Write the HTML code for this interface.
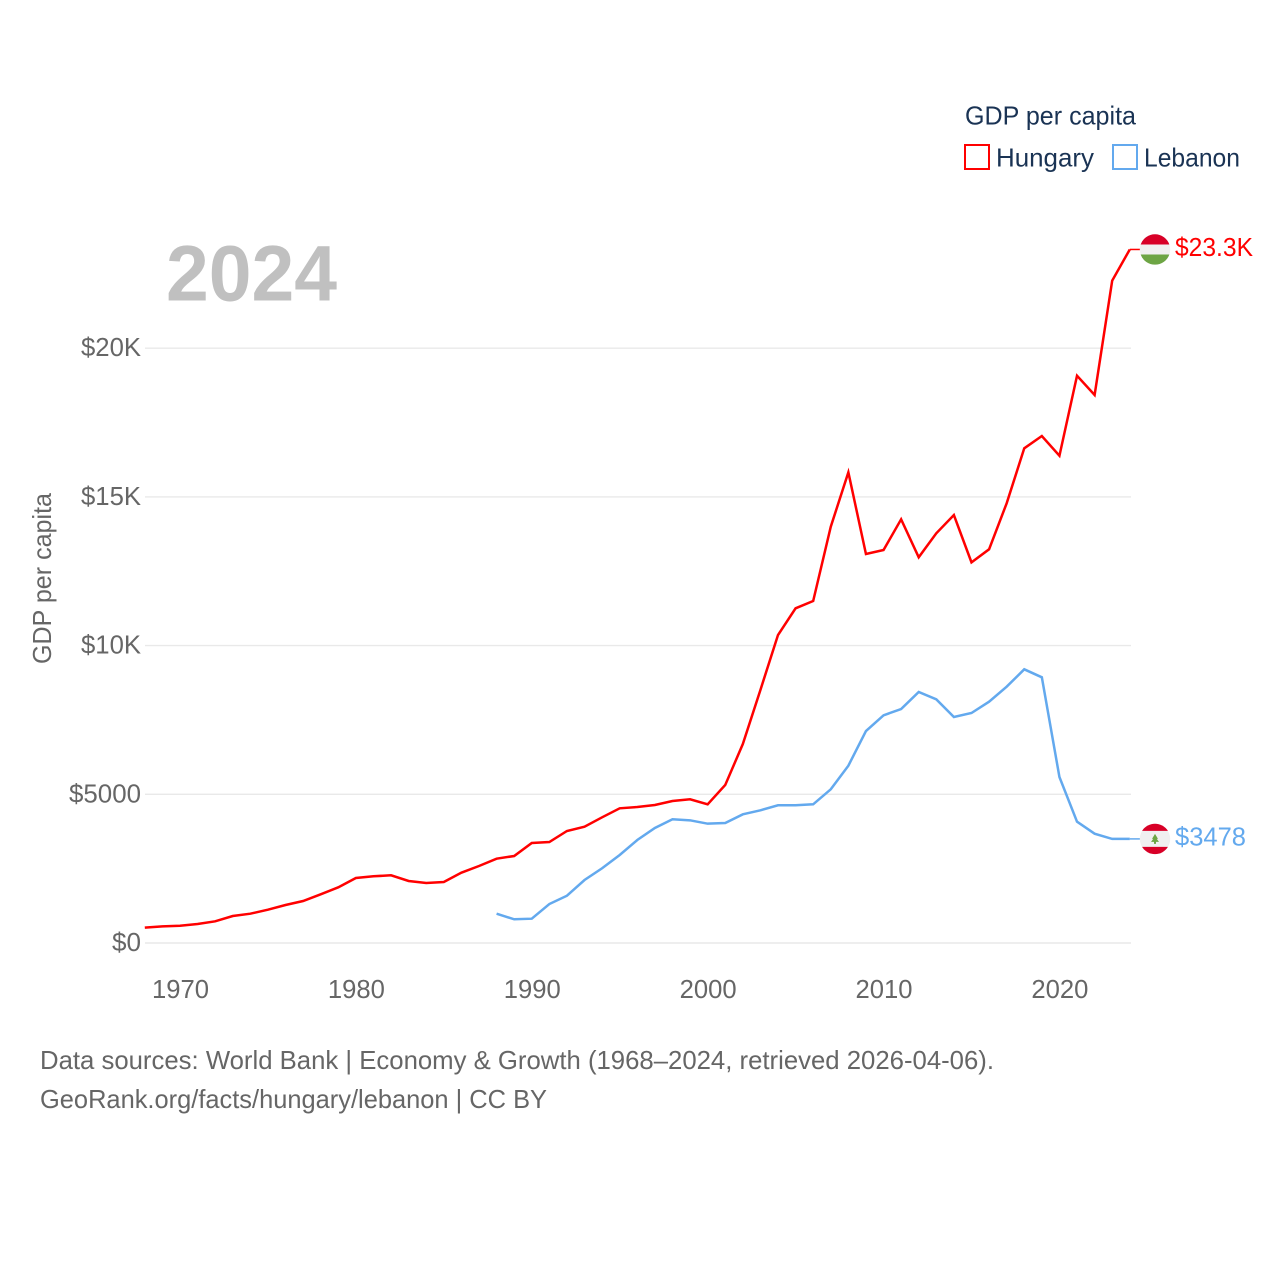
<!DOCTYPE html>
<html lang="en">
<head>
<meta charset="utf-8">
<title>GDP per capita: Hungary vs Lebanon</title>
<style>
html,body{margin:0;padding:0;background:#fff;width:1280px;height:1280px;overflow:hidden}
svg{display:block;font-family:"Liberation Sans",sans-serif}
</style>
</head>
<body>
<svg id="chart" xmlns="http://www.w3.org/2000/svg" width="1280" height="1280" viewBox="0 0 1280 1280">
  <rect x="0" y="0" width="1280" height="1280" fill="#fff"/>
  <g id="grid"></g>
  <g id="ylabels"></g>
  <g id="xlabels"></g>
  <text x="166" y="300.5" font-size="79" font-weight="700" fill="#c0c0c0" textLength="171" lengthAdjust="spacingAndGlyphs">2024</text>
  <text transform="translate(51,664) rotate(-90)" font-size="26" fill="#666" textLength="171" lengthAdjust="spacingAndGlyphs">GDP per capita</text>
  <g id="series"></g>

  <g>
    <text x="965" y="124.5" font-size="26" fill="#1a3354" textLength="171" lengthAdjust="spacingAndGlyphs">GDP per capita</text>
    <rect x="965" y="145" width="24" height="24" fill="none" stroke="#ff0000" stroke-width="2"/>
    <text x="996" y="166.5" font-size="26" fill="#1a3354" textLength="98" lengthAdjust="spacingAndGlyphs">Hungary</text>
    <rect x="1113" y="145" width="24" height="24" fill="none" stroke="#63a9ee" stroke-width="2"/>
    <text x="1144" y="166.5" font-size="26" fill="#1a3354" textLength="96" lengthAdjust="spacingAndGlyphs">Lebanon</text>
  </g>

  <g font-size="26" fill="#666">
    <text x="40" y="1069" textLength="954" lengthAdjust="spacingAndGlyphs">Data sources: World Bank | Economy &amp; Growth (1968–2024, retrieved 2026-04-06).</text>
    <text x="40" y="1108" textLength="507" lengthAdjust="spacingAndGlyphs">GeoRank.org/facts/hungary/lebanon | CC BY</text>
  </g>
  <g id="endmarks"></g>
</svg>
<script>
const hungaryYears = [1968,1969,1970,1971,1972,1973,1974,1975,1976,1977,1978,1979,1980,1981,1982,1983,1984,1985,1986,1987,1988,1989,1990,1991,1992,1993,1994,1995,1996,1997,1998,1999,2000,2001,2002,2003,2004,2005,2006,2007,2008,2009,2010,2011,2012,2013,2014,2015,2016,2017,2018,2019,2020,2021,2022,2023,2024];
const hungaryValues = [515,560,582,639,729,908,986,1120,1278,1412,1637,1872,2186,2243,2276,2085,2017,2051,2364,2589,2835,2925,3362,3396,3766,3911,4226,4529,4573,4640,4775,4832,4664,5313,6691,8507,10356,11254,11500,13998,15827,13080,13214,14247,12969,13776,14391,12800,13238,14785,16634,17048,16385,19075,18426,22270,23320];
const lebanonYears = [1988,1989,1990,1991,1992,1993,1994,1995,1996,1997,1998,1999,2000,2001,2002,2003,2004,2005,2006,2007,2008,2009,2010,2011,2012,2013,2014,2015,2016,2017,2018,2019,2020,2021,2022,2023,2024];
const lebanonValues = [985,797,817,1311,1590,2118,2512,2960,3463,3867,4159,4125,4012,4035,4327,4462,4630,4630,4664,5168,5962,7128,7656,7868,8440,8194,7599,7734,8114,8618,9203,8934,5582,4079,3675,3500,3500];
const yTickValues = [0,5000,10000,15000,20000];
const yTickLabels = ["$0","$5000","$10K","$15K","$20K"];
const xTickValues = [1970,1980,1990,2000,2010,2020];
const hungaryEndLabel = "$23.3K";
const lebanonEndLabel = "$3478";

const NS = "http://www.w3.org/2000/svg";
const xScale = yr => 144.8 + (yr - 1968) * 17.589;
const yScale = v => 943 - v * 0.02974;
const RED = "#ff0000", BLUE = "#63a9ee";

function make(tag, attrs, parent, text) {
  const el = document.createElementNS(NS, tag);
  for (const k in attrs) el.setAttribute(k, attrs[k]);
  if (text !== undefined) el.textContent = text;
  parent.appendChild(el);
  return el;
}

const gridG = document.getElementById("grid");
const yG = document.getElementById("ylabels");
yTickValues.forEach((v, i) => {
  const line = make("line", {x1:145, x2:1131, y1:yScale(v), y2:yScale(v), stroke:"#e9e9e9", "stroke-width":1.4}, gridG);
  
  
  const label = yTickLabels[i];
  const w = label.length === 2 ? 29 : (label.length === 5 ? 72 : 60);
  const t = make("text", {x:141 - w, y:yScale(v) + 8, "font-size":26, fill:"#666", textLength:w, lengthAdjust:"spacingAndGlyphs"}, yG, label);
  
  
});

const xG = document.getElementById("xlabels");
xTickValues.forEach(yr => {
  const t = make("text", {x:xScale(yr) - 28, y:998, "font-size":26, fill:"#666", textLength:57, lengthAdjust:"spacingAndGlyphs"}, xG, String(yr));
  
  
});

const pathOf = (years, values) => years.map((yr, i) => (i ? "L" : "M") + xScale(yr).toFixed(2) + " " + yScale(values[i]).toFixed(2)).join("");
const seriesG = document.getElementById("series");
const lineLebanon = make("path", {d:pathOf(lebanonYears, lebanonValues), fill:"none", stroke:BLUE, "stroke-width":2.5, "stroke-linejoin":"miter"}, seriesG);


const lineHungary = make("path", {d:pathOf(hungaryYears, hungaryValues), fill:"none", stroke:RED, "stroke-width":2.5, "stroke-linejoin":"miter"}, seriesG);



const endG = document.getElementById("endmarks");
const FX = 1155, FR = 15.2;

// Hungary end marker
const hy = yScale(hungaryValues[hungaryValues.length - 1]);
const hLeader = make("line", {x1:xScale(2024), x2:1142, y1:hy, y2:hy, stroke:RED, "stroke-width":1.5}, endG);


const hFlag = make("g", {}, endG);


make("circle", {cx:FX, cy:hy, r:FR, fill:"#f0f0f0"}, hFlag);
const hChord = Math.sqrt(FR * FR - 25);
make("path", {d:`M${FX-hChord} ${hy-5}A${FR} ${FR} 0 0 1 ${FX+hChord} ${hy-5}Z`, fill:"#d80027"}, hFlag);
make("path", {d:`M${FX-hChord} ${hy+5}A${FR} ${FR} 0 0 0 ${FX+hChord} ${hy+5}Z`, fill:"#6da544"}, hFlag);
const hText = make("text", {x:1175, y:hy + 6.5, "font-size":26, fill:RED, textLength:78, lengthAdjust:"spacingAndGlyphs"}, endG, hungaryEndLabel);



// Lebanon end marker
const ly = yScale(lebanonValues[lebanonValues.length - 1]);
const lLeader = make("line", {x1:xScale(2024), x2:1142, y1:ly, y2:ly, stroke:BLUE, "stroke-width":1.5}, endG);


const lFlag = make("g", {}, endG);


make("circle", {cx:FX, cy:ly, r:FR, fill:"#f0f0f0"}, lFlag);
const lChord = Math.sqrt(FR * FR - 64);
make("path", {d:`M${FX-lChord} ${ly-8}A${FR} ${FR} 0 0 1 ${FX+lChord} ${ly-8}Z`, fill:"#d80027"}, lFlag);
make("path", {d:`M${FX-lChord} ${ly+8}A${FR} ${FR} 0 0 0 ${FX+lChord} ${ly+8}Z`, fill:"#d80027"}, lFlag);
make("path", {d:`M${FX} ${ly-5}L${FX+3} ${ly}L${FX+1.8} ${ly}L${FX+4} ${ly+3}L${FX+1} ${ly+3}L${FX+1} ${ly+5}L${FX-1} ${ly+5}L${FX-1} ${ly+3}L${FX-4} ${ly+3}L${FX-1.8} ${ly}L${FX-3} ${ly}Z`, fill:"#6da544"}, lFlag);
const lText = make("text", {x:1175, y:ly + 6.5, "font-size":26, fill:BLUE, textLength:71, lengthAdjust:"spacingAndGlyphs"}, endG, lebanonEndLabel);


</script>
</body>
</html>
